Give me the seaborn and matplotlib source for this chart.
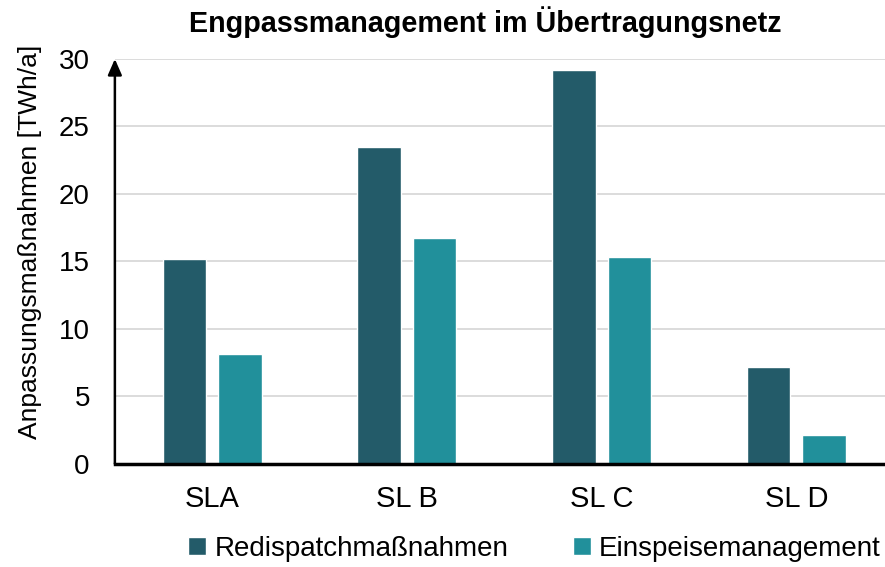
import matplotlib
matplotlib.use("Agg")
import matplotlib.pyplot as plt
import seaborn as sns
import pandas as pd

categories = ["SLA", "SL B", "SL C", "SL D"]
series_names = ["Redispatchmaßnahmen", "Einspeisemanagement"]
redispatch = [15.2, 23.5, 29.2, 7.2]
einspeise = [8.1, 16.7, 15.3, 2.1]
yticks = [0, 5, 10, 15, 20, 25, 30]
colors = ["#235B69", "#21909B"]

df = pd.DataFrame({
    "Szenario": categories * 2,
    "Serie": [series_names[0]] * 4 + [series_names[1]] * 4,
    "Wert": redispatch + einspeise,
})

sns.set_theme(style="white")
plt.rcParams["font.family"] = ["Liberation Sans", "DejaVu Sans"]
for k in ["text.color", "axes.labelcolor", "xtick.color", "ytick.color"]:
    plt.rcParams[k] = "black"

fig = plt.figure(figsize=(8.85, 5.67), dpi=100)
ax = fig.add_axes([0.1298, 0.182, 0.880, 0.714])

sns.barplot(data=df, x="Szenario", y="Wert", hue="Serie", palette=colors,
            width=0.570, gap=0.218, ax=ax, legend=True, saturation=1,
            errorbar=None)

ax.set_ylim(0, 30)
ax.set_xlim(-0.5, 3.5)
ax.set_yticks(yticks)
ax.set_yticklabels([str(t) for t in yticks], fontsize=20)
ax.tick_params(axis="x", labelsize=21, length=0, pad=15)
ax.tick_params(axis="y", length=0, pad=18)
ax.yaxis.grid(True, color="#d9d9d9", linewidth=1.3)
ax.set_axisbelow(True)
ax.set_xlabel("")
ax.set_ylabel("Anpassungsmaßnahmen [TWh/a]", fontsize=19)
ax.yaxis.set_label_coords(-0.094, 0.548)

for s in ["top", "right", "left"]:
    ax.spines[s].set_visible(False)
ax.spines["bottom"].set_color("black")
ax.spines["bottom"].set_linewidth(2.5)

ax.annotate("", xy=(0, 1.0), xycoords="axes fraction", xytext=(0, 0),
            textcoords="axes fraction",
            arrowprops=dict(arrowstyle="-|>,head_length=0.8,head_width=0.35",
                            color="black", lw=1.8, shrinkA=0, shrinkB=0))

fig.text(0.548, 0.961, "Engpassmanagement im Übertragungsnetz", fontsize=20.7,
         fontweight="bold", ha="center", va="center")

handles, labels = ax.get_legend_handles_labels()
ax.get_legend().remove()
fig.legend(handles, labels, loc="center", bbox_to_anchor=(0.604, 0.032),
           ncol=2, frameon=False, fontsize=20, handlelength=0.65,
           handleheight=0.65, handletextpad=0.3, columnspacing=2.3)

fig.savefig("out.png", dpi=100)
